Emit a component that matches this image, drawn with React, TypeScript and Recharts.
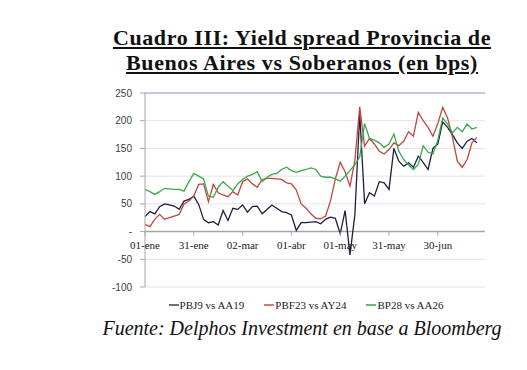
import { CartesianGrid, Line, LineChart, ReferenceLine, XAxis, YAxis } from 'recharts'

// días desde el 01-ene (cada 3 días)
const days = [
  0, 3, 6, 9, 12, 15, 18, 21, 24, 27, 30, 33, 36, 39, 42, 45, 48, 51, 54, 57,
  60, 63, 66, 69, 72, 75, 78, 81, 84, 87, 90, 93, 96, 99, 102, 105, 108, 111, 114, 117,
  120, 123, 126, 129, 132, 135, 138, 141, 144, 147, 150, 153, 156, 159, 162, 165, 168, 171, 174, 177,
  180, 183, 186, 189, 192, 195, 198, 201, 204,
]

const pbj9 = [
  27, 36, 32, 45, 50, 48, 46, 40, 55, 58,
  64, 49, 22, 16, 18, 12, 38, 20, 42, 40,
  48, 35, 45, 46, 32, 40, 48, 42, 36, 34,
  30, 2, 16, 16, 17, 18, 14, 22, 26, 24,
  -4, 38, -42, 30, 212, 50, 70, 64, 90, 88,
  76, 150, 127, 118, 124, 116, 136, 125, 112, 150,
  158, 198, 188, 175, 160, 150, 163, 168, 160,
]

const pbf23 = [
  13, 9, 22, 31, 22, 25, 28, 31, 50, 55,
  64, 85, 86, 54, 85, 70, 66, 63, 72, 66,
  90, 95, 86, 80, 94, 96, 96, 95, 94, 88,
  86, 75, 50, 42, 32, 24, 23, 28, 55, 95,
  125, 108, 82, 128, 225, 154, 168, 158, 145, 140,
  148, 160, 155, 163, 180, 172, 215, 200, 188, 172,
  195, 224, 205, 170, 127, 116, 130, 160, 170,
]

const bp28 = [
  76, 72, 67, 72, 78, 77, 76, 76, 73, 90,
  105, 100, 95, 64, 62, 80, 90, 82, 74, 86,
  94, 100, 103, 108, 90, 98, 103, 105, 112, 116,
  110, 107, 110, 112, 115, 112, 100, 98, 98, 95,
  91, 100, 110, 121, 135, 195, 168, 165, 160, 152,
  158, 176, 145, 130, 120, 112, 121, 155, 143, 140,
  165, 205, 194, 178, 188, 180, 194, 185, 188,
]

const xTickDays = [0, 30, 60, 90, 120, 150, 180]
const xTickLabels = ['01-ene', '31-ene', '02-mar', '01-abr', '01-may', '31-may', '30-jun']
const yTicks = [-100, -50, 0, 50, 100, 150, 200, 250]

const series = [
  { key: 'pbj9', name: 'PBJ9 vs AA19', color: '#1e1f3d', legend: '#6b6e8a' },
  { key: 'pbf23', name: 'PBF23 vs AY24', color: '#c0473f', legend: '#d77a74' },
  { key: 'bp28', name: 'BP28 vs AA26', color: '#3aa94c', legend: '#5fbf6e' },
]

const data = days.map((day, i) => ({ day, pbj9: pbj9[i], pbf23: pbf23[i], bp28: bp28[i] }))

const W = 527
const H = 300
const margin = { top: 93, right: 42, left: 105, bottom: 0 }
const X_AXIS_H = 13
const Y_MIN = -100
const Y_MAX = 250
const PLOT_H = H - margin.top - margin.bottom - X_AXIS_H
const ZERO_Y = margin.top + (PLOT_H * Y_MAX) / (Y_MAX - Y_MIN)

const serif = '"Liberation Serif", "Times New Roman", serif'

// las etiquetas del eje X van sobre la línea del cero
function ZeroTick(props: any) {
  const { x, payload } = props
  const label = xTickLabels[xTickDays.indexOf(payload.value)]
  return (
    <g>
      <line x1={x} x2={x} y1={ZERO_Y} y2={ZERO_Y + 4} stroke='#a6a6a6' />
      <text x={x} y={ZERO_Y + 17} textAnchor='middle' fontSize={11} fontFamily={serif} fill='#1a1a1a'>
        {label}
      </text>
    </g>
  )
}

export default function App() {
  return (
    <div style={{ position: 'absolute', left: 0, top: 0, width: W, height: 370, background: '#fff' }}>
      <div
        style={{
          position: 'absolute',
          left: 80,
          top: 25,
          width: 444,
          textAlign: 'center',
          fontFamily: serif,
          fontWeight: 'bold',
          fontSize: 22,
          letterSpacing: 0.6,
          lineHeight: '25px',
          textDecoration: 'underline',
          color: '#111',
        }}
      >
        Cuadro III: Yield spread Provincia de
        <br />
        Buenos Aires vs Soberanos (en bps)
      </div>

      <div style={{ position: 'absolute', left: 0, top: 0 }}>
        <LineChart width={W} height={H} data={data} margin={margin}>
          <CartesianGrid vertical={false} stroke='#e2e2ef' />
          <XAxis
            dataKey='day'
            type='number'
            domain={[0, 209]}
            ticks={xTickDays}
            height={X_AXIS_H}
            axisLine={false}
            tickLine={false}
            tick={<ZeroTick />}
            interval={0}
          />
          <YAxis
            domain={[Y_MIN, Y_MAX]}
            ticks={yTicks}
            width={40}
            interval={0}
            stroke='#a6a6a6'
            tickSize={5}
            tickMargin={8}
            tick={{ fontSize: 10, fontFamily: '"Liberation Sans", Arial, sans-serif', fill: '#404040' }}
            tickFormatter={(v) => (v === 0 ? '-' : `${v}`)}
          />
          <ReferenceLine y={250} stroke='#c6c6e6' strokeWidth={2} />
          <ReferenceLine y={0} stroke='#a6a6a6' strokeWidth={1.5} />
          {series.map((s) => (
            <Line
              key={s.key}
              type='linear'
              dataKey={s.key}
              name={s.name}
              stroke={s.color}
              strokeWidth={1.3}
              dot={false}
              isAnimationActive={false}
            />
          ))}
        </LineChart>
      </div>

      <div
        style={{
          position: 'absolute',
          left: 0,
          top: 297,
          width: 612,
          display: 'flex',
          justifyContent: 'center',
          gap: 20,
          fontFamily: serif,
          fontSize: 11,
          color: '#222',
          lineHeight: '16px',
        }}
      >
        {series.map((s) => (
          <span key={s.key} style={{ display: 'flex', alignItems: 'center' }}>
            <span style={{ display: 'inline-block', width: 10, height: 1.5, background: s.legend, marginRight: 1 }} />
            {s.name}
          </span>
        ))}
      </div>

      <div
        style={{
          position: 'absolute',
          left: 0,
          top: 316,
          width: 604,
          textAlign: 'center',
          fontFamily: serif,
          fontStyle: 'italic',
          fontSize: 20,
          lineHeight: '24px',
          color: '#111',
        }}
      >
        Fuente: Delphos Investment en base a Bloomberg
      </div>
    </div>
  )
}
